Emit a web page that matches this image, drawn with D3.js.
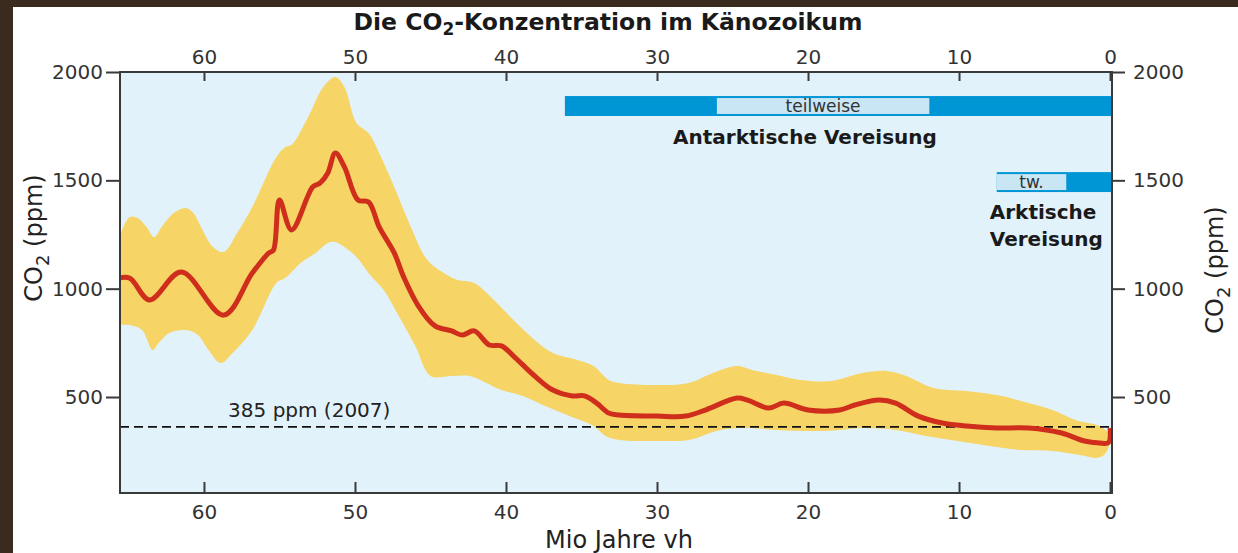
<!DOCTYPE html>
<meta charset="utf-8">
<script src="https://d3js.org/d3.v7.min.js"></script>
<style>
  body { margin: 0; background: #3b2a1e; }
  svg { display: block; font-family: "DejaVu Sans", sans-serif; }
</style>
<div id="chart"></div>
<script>

// CO2 mean curve: [Mio Jahre vh, ppm]
var co2Mean = [
  [65.6, 1050], [64.9, 1048], [63.6, 948], [61.5, 1077], [58.7, 878], [56.8, 1072],
  [55.7, 1165], [55.4, 1178], [55.0, 1409], [54.2, 1271], [52.8, 1469],
  [52.3, 1488], [51.8, 1534], [51.3, 1626], [50.7, 1562], [49.8, 1409],
  [49.1, 1400], [48.4, 1285], [47.4, 1165], [46.8, 1058], [45.8, 920],
  [44.7, 828], [43.6, 805], [42.9, 786], [42.1, 805], [41.1, 740],
  [40.3, 736], [39.5, 689], [38.1, 597], [36.9, 532], [35.6, 505],
  [34.8, 505], [34.0, 472], [33.2, 426], [32.5, 417], [30.0, 412],
  [28.1, 412], [26.8, 440], [24.7, 495], [24.0, 486], [22.6, 449],
  [21.6, 472], [20.0, 440], [17.9, 440], [16.9, 463], [15.3, 486],
  [14.2, 472], [12.7, 412], [11.1, 380], [9.5, 366], [7.5, 357],
  [5.4, 357], [3.2, 334], [1.7, 297], [0.7, 288], [0.1, 290], [0, 357]
];

// upper edge of the uncertainty band
var bandUpper = [
  [65.6, 1225], [64.9, 1331], [64.4, 1326], [63.8, 1285], [63.3, 1238],
  [62.8, 1285], [62.0, 1349], [61.2, 1372], [60.7, 1349], [60.2, 1285],
  [59.4, 1192], [58.7, 1169], [57.8, 1257], [56.8, 1377], [55.2, 1608],
  [54.6, 1654], [54.2, 1663], [53.1, 1792], [52.1, 1931], [51.3, 1977],
  [50.7, 1931], [49.9, 1765], [49.1, 1718], [48.4, 1626], [47.4, 1469],
  [46.3, 1285], [45.2, 1132], [43.9, 1063], [43.2, 1040], [42.1, 1026],
  [40.8, 948], [39.5, 855], [38.1, 763], [36.9, 703], [35.3, 671],
  [34.2, 643], [33.2, 579], [32.5, 565], [30.0, 555], [27.9, 565],
  [26.3, 611], [24.7, 643], [23.7, 625], [22.1, 602], [20.5, 579],
  [18.5, 574], [16.4, 611], [14.8, 620], [13.5, 597], [11.7, 542],
  [9.5, 528], [7.5, 509], [5.9, 482], [3.8, 440], [2.3, 394],
  [0.7, 366], [0.1, 334], [0, 320]
];

// lower edge of the uncertainty band
var bandLower = [
  [65.6, 842], [64.9, 832], [64.1, 809], [63.4, 717], [63.0, 749],
  [62.3, 795], [61.2, 809], [60.4, 786], [59.7, 717], [58.9, 657],
  [58.1, 703], [56.8, 809], [55.2, 1026], [54.6, 1050], [53.6, 1119],
  [52.6, 1165], [51.8, 1211], [51.3, 1215], [50.7, 1192], [49.9, 1146],
  [49.0, 1063], [48.1, 994], [47.1, 874], [46.0, 735], [45.0, 597],
  [43.6, 597], [42.4, 597], [41.3, 565], [40.3, 532], [38.9, 505],
  [37.4, 459], [35.8, 412], [34.2, 366], [33.4, 320], [32.5, 302],
  [30.0, 297], [27.9, 302], [25.8, 348], [24.2, 357], [22.1, 348],
  [19.5, 343], [17.9, 348], [16.4, 357], [14.2, 348], [12.2, 320],
  [10.1, 297], [8.0, 274], [5.9, 255], [3.8, 251], [2.0, 232],
  [0.9, 219], [0.4, 232], [0, 288]
];

var xTicks = [60, 50, 40, 30, 20, 10, 0];
var yTicks = [500, 1000, 1500, 2000];

// glaciation bars: from, to (Mio J.), partial part from/to, ppm band
var iceSheets = [
  {name: "Antarktische Vereisung", from: 36.1, to: 0, partFrom: 26.1, partTo: 11.9, partLabel: "teilweise", top: 1889, bottom: 1797},
  {name: "Arktische Vereisung", from: 7.5, to: 0, partFrom: 7.5, partTo: 2.9, partLabel: "tw.", top: 1538, bottom: 1446}
];

var refLine = {ppm: 362, label: "385 ppm (2007)"};

var W = 1238, H = 553;
var margin = {top: 72, right: 126, bottom: 60, left: 120};
var width = W - margin.left - margin.right,
    height = H - margin.top - margin.bottom;

var svg = d3.select("#chart").append("svg")
  .attr("width", W).attr("height", H);

// white panel on the wood background
svg.append("rect").attr("x", 13).attr("y", 7)
  .attr("width", W - 13).attr("height", H - 7).attr("fill", "#ffffff");

var g = svg.append("g")
  .attr("transform", "translate(" + margin.left + "," + margin.top + ")");

var x = d3.scaleLinear().domain([65.56, -0.13]).range([0, width]);
var y = d3.scaleLinear().domain([57, 2000]).range([height, 0]);

g.append("rect").attr("width", width).attr("height", height).attr("fill", "#e2f2fb");

g.append("clipPath").attr("id", "clip")
  .append("rect").attr("width", width).attr("height", height);

var plot = g.append("g").attr("clip-path", "url(#clip)");

// band
var bandPts = bandUpper.concat(bandLower.slice().reverse());
var bandLine = d3.line()
  .x(function(d) { return x(d[0]); })
  .y(function(d) { return y(d[1]); })
  .curve(d3.curveCatmullRomClosed.alpha(0.5));
plot.append("path").attr("d", bandLine(bandPts)).attr("fill", "#f6d466");

// dashed reference line
plot.append("line")
  .attr("x1", 0).attr("x2", width)
  .attr("y1", y(refLine.ppm)).attr("y2", y(refLine.ppm))
  .attr("stroke", "#111").attr("stroke-width", 1.6).attr("stroke-dasharray", "9,5");

// mean curve
var meanLine = d3.line()
  .x(function(d) { return x(d[0]); })
  .y(function(d) { return y(d[1]); })
  .curve(d3.curveCatmullRom.alpha(0.5));
plot.append("path").attr("d", meanLine(co2Mean))
  .attr("fill", "none").attr("stroke", "#cf2e1c").attr("stroke-width", 5)
  .attr("stroke-linejoin", "round");

g.append("text").attr("x", x(58.4)).attr("y", y(refLine.ppm) - 10)
  .attr("font-size", 20).attr("fill", "#222").text(refLine.label);

// glaciation bars
iceSheets.forEach(function(s, i) {
  var yt = y(s.top), yb = y(s.bottom);
  plot.append("rect").attr("x", x(s.from)).attr("y", yt)
    .attr("width", x(s.to) - x(s.from) + 4).attr("height", yb - yt)
    .attr("fill", "#0096d6");
  plot.append("rect").attr("x", x(s.partFrom) + (i ? 0 : 1)).attr("y", yt + 2)
    .attr("width", x(s.partTo) - x(s.partFrom) - (i ? 0 : 2)).attr("height", yb - yt - 4)
    .attr("fill", "#c8e6f4");
  g.append("text").attr("x", (x(s.partFrom) + x(s.partTo)) / 2).attr("y", (yt + yb) / 2 + 6)
    .attr("text-anchor", "middle").attr("font-size", 17).attr("fill", "#333")
    .text(s.partLabel);
});

var ant = iceSheets[0];
g.append("text").attr("x", x(20.2)).attr("y", y(ant.bottom) + 28)
  .attr("text-anchor", "middle").attr("font-size", 20).attr("font-weight", "bold").attr("fill", "#1a1a1a")
  .text("Antarktische Vereisung");
var arc = iceSheets[1];
arc.name.split(" ").forEach(function(w, i) {
  g.append("text").attr("x", x(arc.from) - 7).attr("y", y(arc.bottom) + 27 + i * 27)
    .attr("font-size", 20).attr("font-weight", "bold").attr("fill", "#1a1a1a").text(w);
});

// axes
var axisColor = "#3a3a3a";
function styleAxis(sel) {
  sel.select(".domain").remove();
  sel.selectAll(".tick line").attr("stroke", axisColor).attr("stroke-width", 2);
  sel.selectAll(".tick text").attr("font-size", 20).attr("fill", "#333")
    .attr("font-family", "DejaVu Sans, sans-serif");
}
var fmt = d3.format("d");

g.append("g").attr("transform", "translate(0," + height + ")")
  .call(d3.axisBottom(x).tickValues(xTicks).tickFormat(fmt).tickSizeInner(-11).tickPadding(12))
  .call(styleAxis);
g.append("g")
  .call(d3.axisTop(x).tickValues(xTicks).tickFormat(fmt).tickSizeInner(-9).tickPadding(8))
  .call(styleAxis);
g.append("g")
  .call(d3.axisLeft(y).tickValues(yTicks).tickFormat(fmt).tickSize(14).tickPadding(3))
  .call(styleAxis);
g.append("g").attr("transform", "translate(" + width + ",0)")
  .call(d3.axisRight(y).tickValues(yTicks).tickFormat(fmt).tickSize(13).tickPadding(8))
  .call(styleAxis);

// frame
g.append("rect").attr("width", width).attr("height", height)
  .attr("fill", "none").attr("stroke", axisColor).attr("stroke-width", 2);

// titles
function co2Label(sel, size) {
  sel.append("tspan").text("CO");
  sel.append("tspan").attr("font-size", size * 0.75).attr("dy", size * 0.28).text("2");
  sel.append("tspan").attr("dy", -size * 0.28).text(" (ppm)");
}

svg.append("text").attr("x", 608).attr("y", 30)
  .attr("text-anchor", "middle").attr("font-size", 23.5).attr("font-weight", "bold").attr("fill", "#1a1a1a")
  .call(function(t) {
    t.append("tspan").text("Die CO");
    t.append("tspan").attr("font-size", 17).attr("dy", 5).text("2");
    t.append("tspan").attr("dy", -5).text("-Konzentration im Känozoikum");
  });

svg.append("text").attr("x", 619).attr("y", 548)
  .attr("text-anchor", "middle").attr("font-size", 24).attr("fill", "#222").text("Mio Jahre vh");

svg.append("text").attr("transform", "translate(42,238) rotate(-90)")
  .attr("text-anchor", "middle").attr("font-size", 24).attr("fill", "#222")
  .call(co2Label, 24);
svg.append("text").attr("transform", "translate(1223,270) rotate(-90)")
  .attr("text-anchor", "middle").attr("font-size", 24).attr("fill", "#222")
  .call(co2Label, 24);

</script>
